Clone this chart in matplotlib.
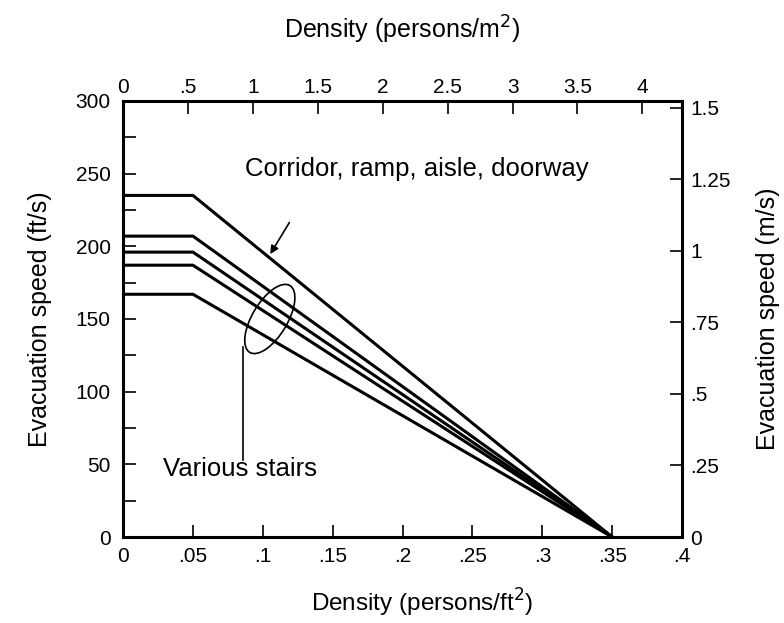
import numpy as np
import matplotlib.pyplot as plt
from matplotlib.patches import Ellipse
from matplotlib import transforms
from matplotlib.ticker import FuncFormatter, MultipleLocator

plt.rcParams['font.family'] = ['Liberation Sans', 'DejaVu Sans']

# speed curves: flat up to 0.05 persons/ft2, then linear down to zero at 0.35
density_pts = [0, 0.05, 0.35]
max_speeds = [235, 207, 196, 187, 167]   # ft/min (labelled ft/s in source)

bottom_ticks = [0, 0.05, 0.1, 0.15, 0.2, 0.25, 0.3, 0.35, 0.4]
top_ticks = [0, 0.5, 1, 1.5, 2, 2.5, 3, 3.5, 4]
right_ticks = [0, 0.25, 0.5, 0.75, 1, 1.25, 1.5]
left_ticks = [0, 50, 100, 150, 200, 250, 300]

FT2_TO_M2 = 10.764
FTMIN_TO_MS = 0.00508


def no_lead_zero(v, pos=None):
    s = ('%g' % v)
    if s.startswith('0.'):
        s = s[1:]
    return s


fig = plt.figure(figsize=(7.84, 6.23), dpi=100)
ax = fig.add_axes([0.157, 0.138, 0.713, 0.700])

for sp in max_speeds:
    ax.plot(density_pts, [sp, sp, 0], color='black', lw=2.2, solid_joinstyle='miter')

ax.set_xlim(0, 0.4)
ax.set_ylim(0, 300)
ax.set_xticks(bottom_ticks)
ax.xaxis.set_major_formatter(FuncFormatter(no_lead_zero))
ax.set_yticks(left_ticks)
ax.yaxis.set_minor_locator(MultipleLocator(25))
ax.tick_params(axis='both', which='both', direction='in', labelsize=15, width=1.2)
ax.tick_params(axis='x', pad=7)
ax.tick_params(axis='y', pad=9)
ax.tick_params(axis='both', which='major', length=9)
ax.tick_params(axis='y', which='minor', length=9)
for s in ax.spines.values():
    s.set_linewidth(2.2)

ax.set_xlabel('Density (persons/ft$^2$)', fontsize=17.5)
ax.xaxis.set_label_coords(0.535, -0.115)
ax.set_ylabel('Evacuation speed (ft/s)', fontsize=18, labelpad=17)

# top axis in persons/m2
top = ax.secondary_xaxis('top', functions=(lambda x: x * FT2_TO_M2, lambda x: x / FT2_TO_M2))
top.set_xticks(top_ticks)
top.xaxis.set_major_formatter(FuncFormatter(no_lead_zero))
top.tick_params(direction='in', length=9, labelsize=15, width=1.2, pad=3)
top.set_xlabel('Density (persons/m$^2$)', fontsize=18, labelpad=28)

# right axis in m/s
right = ax.secondary_yaxis('right', functions=(lambda y: y * FTMIN_TO_MS, lambda y: y / FTMIN_TO_MS))
right.set_yticks(right_ticks)
right.yaxis.set_major_formatter(FuncFormatter(no_lead_zero))
right.tick_params(direction='in', length=9, labelsize=15, width=1.2, pad=6)
right.set_ylabel('Evacuation speed (m/s)', fontsize=18, labelpad=18)

# annotations
ax.text(0.0873, 253, 'Corridor, ramp, aisle, doorway', fontsize=18.5, va='center')
ax.annotate('', xy=(0.1043, 193), xytext=(0.12, 218),
            arrowprops=dict(arrowstyle='-|>', color='black', lw=1.2, mutation_scale=12))
ax.text(0.0286, 47, 'Various stairs', fontsize=18.5, va='center')

ell_trans = fig.dpi_scale_trans + transforms.ScaledTranslation(0.105, 150, ax.transData)
ax.add_patch(Ellipse((0, 0), 0.35, 0.78, angle=-31, fill=False, lw=1.2,
                     edgecolor='black', transform=ell_trans))
ax.plot([0.0859, 0.0859], [131, 53], color='black', lw=1.2)

fig.savefig('out.png', dpi=100)
